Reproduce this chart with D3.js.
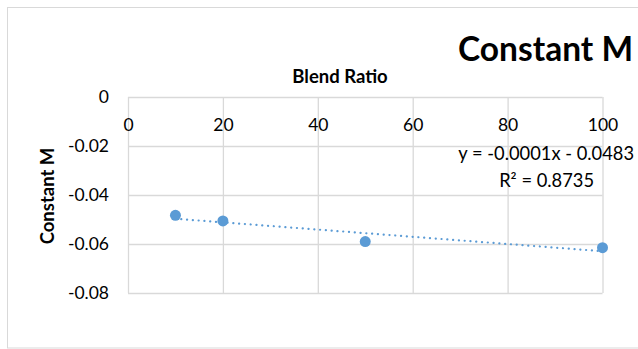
<!DOCTYPE html>
<html><head><meta charset="utf-8">
<script src="https://cdn.jsdelivr.net/npm/d3@7"></script>
<style>body{margin:0;background:#fff}svg{display:block}text{font-family:Lato,"Open Sans",sans-serif;fill:#000}</style>
</head><body><svg id="c" width="638" height="349"></svg>
<script>
const blendRatio = [10, 20, 50, 100];
const constantM = [-0.0483, -0.0506, -0.059, -0.0615];
const xTicks = [0, 20, 40, 60, 80, 100];
const yTicks = [0, -0.02, -0.04, -0.06, -0.08];
const chartTitle = "Constant M";
const xTitle = "Blend Ratio";
const yTitle = "Constant M";

const svg = d3.select("#c");
const x = d3.scaleLinear().domain([0, 100]).range([128, 602.5]);
const y = d3.scaleLinear().domain([0, -0.08]).range([97, 293]);
const col = "#5b9bd5";

svg.append("rect").attr("x", 7.5).attr("y", 7.5).attr("width", 700).attr("height", 340.5)
  .attr("fill", "#fff").attr("stroke", "#d9d9d9");

const xAxis = d3.axisTop(x).tickValues(xTicks).tickSize(-(293 - 97)).tickFormat(d3.format("d"));
const gx = svg.append("g").attr("transform", "translate(0,97)").call(xAxis);
gx.select(".domain").remove();
gx.selectAll("line").attr("stroke", "#d9d9d9").attr("stroke-width", 1.3);
gx.selectAll("text").attr("y", 34).attr("dy", 0).attr("font-size", 17.5).attr("font-family", "Lato");

const yAxis = d3.axisLeft(y).tickValues(yTicks).tickSize(-(602.5 - 128)).tickFormat(d => d === 0 ? "0" : d3.format(".2f")(d).replace("−", "-"));
const gy = svg.append("g").attr("transform", "translate(128,0)").call(yAxis);
gy.select(".domain").remove();
gy.selectAll("line").attr("stroke", "#d9d9d9").attr("stroke-width", 1.3);
gy.selectAll("text").attr("x", -19).attr("font-size", 17.5).attr("font-family", "Lato");

const n = blendRatio.length;
const mx = d3.mean(blendRatio), my = d3.mean(constantM);
let sxy = 0, sxx = 0;
for (let i = 0; i < n; i++) { sxy += (blendRatio[i]-mx)*(constantM[i]-my); sxx += (blendRatio[i]-mx)**2; }
const slope = sxy / sxx, icpt = my - slope * mx;
const x0 = d3.min(blendRatio), x1 = d3.max(blendRatio);
svg.append("line").attr("x1", x(x0)).attr("y1", y(icpt + slope*x0)).attr("x2", x(x1)).attr("y2", y(icpt + slope*x1))
  .attr("stroke", col).attr("stroke-width", 2.2).attr("stroke-dasharray", "0.1 5.7").attr("stroke-linecap", "round");

svg.selectAll("circle.pt").data(blendRatio).join("circle").attr("class", "pt")
  .attr("cx", d => x(d)).attr("cy", (d, i) => y(constantM[i])).attr("r", 5.5).attr("fill", col);

svg.append("text").attr("x", 634).attr("y", 160).attr("text-anchor", "end").attr("font-size", 18.3).text("y = -0.0001x - 0.0483");
svg.append("text").attr("x", 594).attr("y", 187).attr("text-anchor", "end").attr("font-size", 18.3).text("R² = 0.8735");

svg.append("text").attr("x", 458).attr("y", 61).attr("font-size", 33.5).attr("font-weight", "bold").text(chartTitle);
svg.append("text").attr("x", 340).attr("y", 83).attr("text-anchor", "middle").attr("font-size", 18.5).attr("font-weight", "bold").text(xTitle);
svg.append("text").attr("transform", "translate(54,196) rotate(-90)").attr("text-anchor", "middle").attr("font-size", 18.5).attr("font-weight", "bold").text(yTitle);
</script></body></html>
